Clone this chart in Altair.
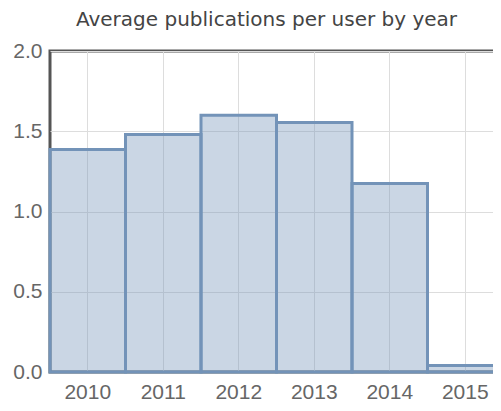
import altair as alt
import pandas as pd

years = ["2010", "2011", "2012", "2013", "2014", "2015"]
averages = [1.386, 1.48, 1.60, 1.554, 1.175, 0.04]

df = pd.DataFrame({"year": years, "avg": averages})

chart = alt.Chart(df).mark_bar(
    fill="#7393b8",
    fillOpacity=0.38,
    stroke="#7393b8",
    strokeWidth=3,
).encode(
    x=alt.X(
        "year:O",
        title=None,
        scale=alt.Scale(paddingInner=0, paddingOuter=0),
        axis=alt.Axis(
            labelAngle=0,
            labelFont="Liberation Sans",
            labelFontSize=21,
            labelColor="#666666",
            labelPadding=9,
            ticks=False,
            domain=False,
            grid=True,
            gridColor="#dddddd",
            gridWidth=1,
            bandPosition=0.5,
        ),
    ),
    y=alt.Y(
        "avg:Q",
        title=None,
        scale=alt.Scale(domain=[0, 2], nice=False),
        axis=alt.Axis(
            values=[0, 0.5, 1.0, 1.5, 2.0],
            format=".1f",
            labelFont="Liberation Sans",
            labelFontSize=21,
            labelColor="#666666",
            labelPadding=8,
            ticks=False,
            domain=False,
            grid=True,
            gridColor="#dddddd",
            gridWidth=1,
        ),
    ),
).properties(
    width=453,
    height=321,
    title=alt.TitleParams(
        "Average publications per user by year",
        font="DejaVu Sans",
        fontSize=20,
        fontWeight="normal",
        color="#444444",
        anchor="middle",
        dx=-10,
        offset=10,
    ),
    autosize=alt.AutoSizeParams(type="none"),
    padding={"left": 42, "top": 43, "right": -10, "bottom": 31},
).configure_view(
    stroke="#555555",
    strokeWidth=3,
)

chart.save("out.html", embed_options={"renderer": "svg", "actions": False})
